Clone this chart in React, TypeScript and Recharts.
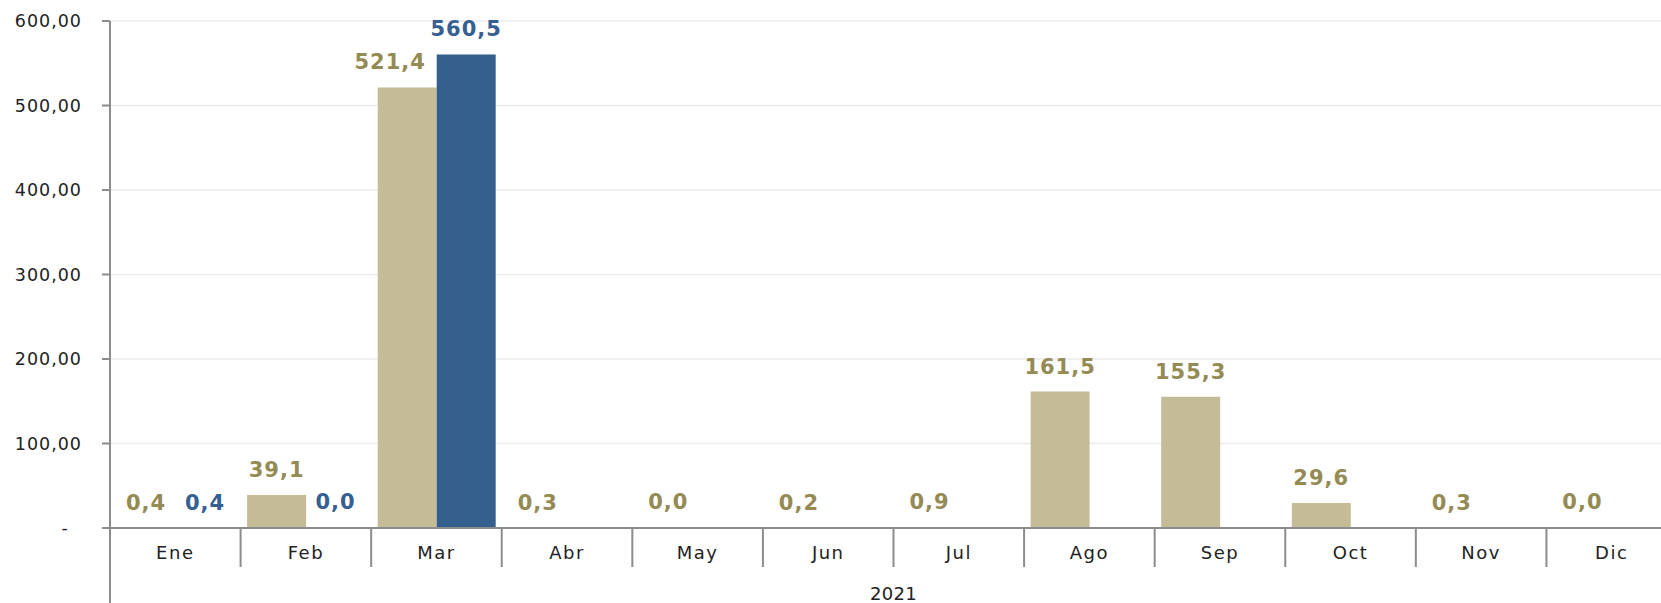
import { BarChart, Bar, XAxis, YAxis, CartesianGrid, LabelList } from "recharts";

const meses = ["Ene", "Feb", "Mar", "Abr", "May", "Jun", "Jul", "Ago", "Sep", "Oct", "Nov", "Dic"];
const serieBeige: number[] = [0.4, 39.1, 521.4, 0.3, 0.0, 0.2, 0.9, 161.5, 155.3, 29.6, 0.3, 0.0];
const serieAzul: (number | null)[] = [0.4, 0.0, 560.5, null, null, null, null, null, null, null, null, null];
const yTicks = [0, 100, 200, 300, 400, 500, 600];
const anio = "2021";

const data = meses.map((mes, i) => ({ mes, beige: serieBeige[i], azul: serieAzul[i] }));

const AXIS = "#8c8c8c";
const FONT = "'DejaVu Sans', sans-serif";

const fmtY = (v: number) => (v === 0 ? "-\u00a0\u00a0" : v.toFixed(2).replace(".", ","));
const fmtLabel = (v: any) => (v === null || v === undefined ? "" : Number(v).toFixed(1).replace(".", ","));
// zero values still need their label, so give them a hairline bar hidden under the axis
const minZero = (v: any) => (v === 0 ? 1 : 0);

// month label plus the separator line at the right edge of its band;
// the first one also carries the y axis down to the bottom
const MonthTick = (props: any) => {
  const { x, y, payload, index } = props;
  const off = payload.offset || 0;
  return (
    <g>
      <text
        x={x}
        y={y + 31}
        textAnchor="middle"
        fill="#222"
        fontSize={18}
        fontFamily={FONT}
        letterSpacing={1.5}
      >
        {payload.value}
      </text>
      <line x1={x + off} x2={x + off} y1={y} y2={y + 39} stroke={AXIS} strokeWidth={2} />
      {index === 0 && <line x1={x - off} x2={x - off} y1={y} y2={y + 80} stroke={AXIS} strokeWidth={2} />}
    </g>
  );
};

// Mar label in the original sits a bit left so it clears the blue bar
const BeigeLabel = (props: any) => {
  const { x, y, width, value, index } = props;
  if (value === null || value === undefined) return null;
  const shift = index === 2 ? -17 : 0;
  return (
    <text
      x={x + width / 2 + shift}
      y={y - 18}
      textAnchor="middle"
      fill="#948a54"
      fontSize={21}
      fontWeight="bold"
      fontFamily={FONT}
      letterSpacing={1}
    >
      {fmtLabel(value)}
    </text>
  );
};

export default function App() {
  return (
    <div style={{ position: "absolute", left: 0, top: 0, width: 1661, height: 603, overflow: "hidden", background: "#fff" }}>
      <BarChart
        width={1677}
        height={603}
        data={data}
        margin={{ top: 21, right: 0, bottom: 0, left: 0 }}
        barCategoryGap="5%"
        barGap={0}
      >
        <CartesianGrid vertical={false} stroke="#ebebeb" strokeWidth={1.5} />
        <XAxis
          dataKey="mes"
          height={75}
          axisLine={{ stroke: AXIS, strokeWidth: 2 }}
          tickLine={false}
          tickSize={0}
          tickMargin={0}
          interval={0}
          tick={<MonthTick />}
          label={{
            value: anio,
            position: "insideBottom",
            offset: 3,
            fill: "#222",
            fontSize: 18,
            fontFamily: FONT,
            letterSpacing: 0.3,
          }}
        />
        <YAxis
          width={110}
          domain={[0, 600]}
          ticks={yTicks}
          tickFormatter={fmtY}
          axisLine={{ stroke: AXIS, strokeWidth: 2 }}
          tickLine={{ stroke: AXIS, strokeWidth: 2 }}
          tickSize={8}
          tickMargin={20}
          tick={{ fill: "#222", fontSize: 17.5, fontFamily: FONT, letterSpacing: 1 }}
        />
        <Bar dataKey="beige" fill="#c4bc96" minPointSize={minZero} isAnimationActive={false}>
          <LabelList dataKey="beige" content={<BeigeLabel />} />
        </Bar>
        <Bar dataKey="azul" fill="#355f8d" minPointSize={minZero} isAnimationActive={false}>
          <LabelList
            dataKey="azul"
            position="top"
            offset={18}
            formatter={fmtLabel}
            fill="#366092"
            fontSize={21}
            fontWeight="bold"
            fontFamily={FONT}
            letterSpacing={1}
          />
        </Bar>
      </BarChart>
    </div>
  );
}
